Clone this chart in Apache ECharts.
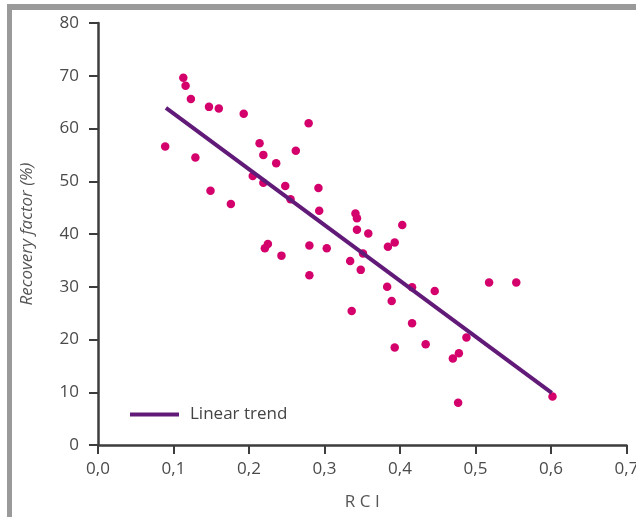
<!DOCTYPE html>
<html>
<head>
<meta charset="utf-8">
<script src="https://cdn.jsdelivr.net/npm/echarts@6/dist/echarts.min.js"></script>
<style>
html,body{margin:0;padding:0;background:#fff;}
#chart{width:636px;height:517px;}
</style>
</head>
<body>
<div id="chart"></div>
<script>
// RCI values (x) and recovery factor (%) values (y)
const rci = [0.089,0.113,0.116,0.123,0.129,0.147,0.160,0.149,0.176,0.193,
  0.214,0.219,0.205,0.219,0.236,0.248,0.255,0.262,0.279,0.292,
  0.293,0.221,0.225,0.243,0.280,0.280,0.341,0.343,0.343,0.358,
  0.403,0.303,0.384,0.393,0.334,0.348,0.351,0.383,0.416,0.446,
  0.518,0.554,0.389,0.336,0.416,0.393,0.434,0.488,0.470,0.478,
  0.477,0.602];
const recovery = [56.6,69.6,68.1,65.6,54.5,64.1,63.8,48.2,45.7,62.8,
  57.2,55.0,51.0,49.7,53.4,49.1,46.6,55.8,61.0,48.7,
  44.4,37.3,38.1,35.9,37.8,32.2,43.9,43.0,40.8,40.1,
  41.7,37.3,37.6,38.4,34.9,33.2,36.3,30.0,29.9,29.2,
  30.8,30.8,27.3,25.4,23.1,18.5,19.1,20.4,16.4,17.4,
  8.0,9.2];
const trendX = [0.090, 0.601];
const trendY = [63.9, 9.9];
const xTicks = [0,0.1,0.2,0.3,0.4,0.5,0.6,0.7];
const yTicks = [0,10,20,30,40,50,60,70,80];

const chart = echarts.init(document.getElementById('chart'), null, {renderer:'canvas'});
const axisCol = '#3d3d3d';
const labCol = '#4a4a4a';
const font = '"Open Sans", "Noto Sans", sans-serif';
chart.setOption({
  animation:false,
  backgroundColor:'#fff',
  graphic:[
    {type:'rect', shape:{x:7,y:4,width:629,height:6}, style:{fill:'#9a9a9a'}, silent:true},
    {type:'rect', shape:{x:7,y:4,width:5,height:513}, style:{fill:'#9a9a9a'}, silent:true}
  ],
  grid:{left:98, right:9.5, top:23, bottom:72, containLabel:false, outerBoundsMode:'none'},
  legend:{
    data:['Linear trend'],
    left:125, top:401,
    icon:'rect', itemWidth:49, itemHeight:4,
    textStyle:{fontFamily:font, fontSize:17, color:'#444', padding:[0,0,0,6]}
  },
  xAxis:{
    type:'value', min:xTicks[0], max:xTicks[xTicks.length-1], interval:0.1,
    name:'R C I', nameLocation:'middle', nameGap:49,
    nameTextStyle:{fontFamily:font, fontSize:17, color:'#555'},
    axisLine:{show:true, lineStyle:{color:axisCol, width:2.5}},
    axisTick:{show:true, inside:false, length:9, lineStyle:{color:axisCol, width:2}},
    axisLabel:{fontFamily:font, fontSize:17, color:labCol, margin:16,
      formatter:v=>v.toFixed(1).replace('.',',')},
    splitLine:{show:false}
  },
  yAxis:{
    type:'value', min:yTicks[0], max:yTicks[yTicks.length-1], interval:10,
    name:'Recovery factor (%)', nameLocation:'middle', nameGap:62,
    nameTextStyle:{fontFamily:font, fontSize:17, color:'#555', fontStyle:'italic'},
    axisLine:{show:true, lineStyle:{color:axisCol, width:2.5}},
    axisTick:{show:true, inside:false, length:9, lineStyle:{color:axisCol, width:2}},
    axisLabel:{fontFamily:font, fontSize:17, color:labCol, margin:19},
    splitLine:{show:false}
  },
  series:[
    {
      name:'Data', type:'scatter', symbol:'circle', symbolSize:8.5,
      itemStyle:{color:'#d4006c', opacity:1},
      data:rci.map((x,i)=>[x,recovery[i]]),
      z:3
    },
    {
      name:'Linear trend', type:'line', showSymbol:false, symbol:'none',
      lineStyle:{color:'#621a78', width:4},
      itemStyle:{color:'#621a78'},
      data:trendX.map((x,i)=>[x,trendY[i]]),
      z:4
    }
  ]
});
</script>
</body>
</html>
